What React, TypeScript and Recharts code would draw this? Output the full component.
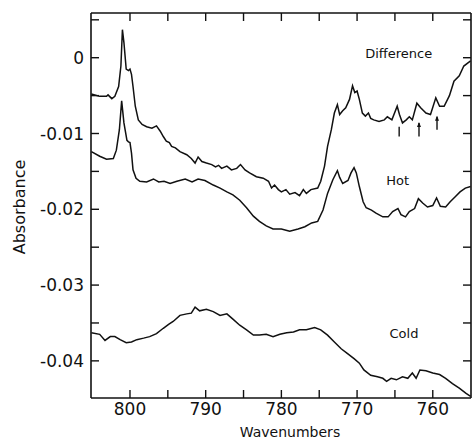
import React from 'react';
import { LineChart, Line, XAxis, YAxis, ReferenceDot, ReferenceLine } from 'recharts';

// Difference spectrum (wavenumber, absorbance)
const diffWn = [805.1, 804.0, 803.1, 802.9, 802.4, 802.0, 801.5, 801.2, 801.0, 800.8, 800.5, 800.2, 800.0, 799.8, 799.6, 799.3, 798.9, 798.4, 797.8, 797.1, 796.5, 796.0, 795.6, 795.2, 794.8, 794.5, 794.0, 793.4, 792.5, 791.9, 791.4, 791.0, 790.5, 789.9, 789.2, 788.7, 788.3, 787.9, 787.2, 786.6, 785.9, 785.4, 784.8, 784.2, 783.3, 782.4, 781.7, 781.3, 780.9, 780.4, 780.0, 779.4, 778.9, 778.2, 777.6, 777.1, 776.7, 776.1, 775.2, 774.8, 774.3, 773.9, 773.4, 773.0, 772.6, 772.3, 771.9, 771.5, 771.0, 770.6, 770.3, 770.0, 769.7, 769.3, 768.9, 768.5, 768.2, 767.8, 767.1, 766.4, 766.0, 765.4, 764.7, 764.4, 764.0, 763.5, 763.1, 762.7, 762.1, 761.6, 760.9, 760.3, 759.6, 759.1, 758.5, 757.8, 757.2, 756.5, 755.9, 755.0];
const diffAbs = [-0.0048, -0.0051, -0.0051, -0.0049, -0.0054, -0.0051, -0.0038, -0.0011, 0.0037, 0.0020, -0.0015, -0.0017, -0.0015, -0.0022, -0.0038, -0.0064, -0.0082, -0.0088, -0.0091, -0.0093, -0.0090, -0.0097, -0.0104, -0.0110, -0.0112, -0.0117, -0.0119, -0.0124, -0.0128, -0.0133, -0.0139, -0.0131, -0.0137, -0.0139, -0.0141, -0.0144, -0.0142, -0.0146, -0.0143, -0.0148, -0.0146, -0.0141, -0.0148, -0.0152, -0.0157, -0.0159, -0.0163, -0.0172, -0.0168, -0.0174, -0.0177, -0.0174, -0.0180, -0.0178, -0.0182, -0.0174, -0.0179, -0.0174, -0.0172, -0.0163, -0.0143, -0.0117, -0.0095, -0.0073, -0.0062, -0.0075, -0.0070, -0.0066, -0.0055, -0.0037, -0.0046, -0.0044, -0.0055, -0.0073, -0.0077, -0.0073, -0.0080, -0.0082, -0.0084, -0.0082, -0.0078, -0.0082, -0.0064, -0.0075, -0.0086, -0.0082, -0.0078, -0.0082, -0.0060, -0.0066, -0.0073, -0.0075, -0.0053, -0.0064, -0.0064, -0.0050, -0.0031, -0.0024, -0.0011, -0.0004];

// Hot spectrum
const hotWn = [805.1, 804.0, 803.1, 802.2, 801.8, 801.4, 801.1, 800.8, 800.4, 800.2, 800.0, 799.8, 799.6, 799.2, 798.7, 797.8, 796.9, 796.2, 795.5, 794.7, 793.8, 792.7, 791.8, 791.0, 790.1, 789.0, 788.1, 787.2, 786.4, 785.5, 784.6, 783.7, 782.9, 782.0, 781.1, 780.0, 778.9, 777.8, 776.9, 776.0, 775.2, 774.5, 773.9, 773.2, 772.6, 772.3, 771.9, 771.2, 770.8, 770.4, 770.1, 769.7, 769.2, 768.8, 768.1, 767.5, 766.6, 765.9, 765.3, 764.6, 764.2, 763.6, 763.1, 762.4, 761.9, 761.3, 760.7, 760.0, 759.5, 759.0, 758.3, 757.7, 757.0, 756.4, 755.7, 755.0];
const hotAbs = [-0.0124, -0.0130, -0.0134, -0.0133, -0.0122, -0.0095, -0.0057, -0.0086, -0.0109, -0.0111, -0.0112, -0.0126, -0.0148, -0.0159, -0.0163, -0.0164, -0.0160, -0.0164, -0.0163, -0.0166, -0.0163, -0.0160, -0.0164, -0.0160, -0.0162, -0.0168, -0.0172, -0.0177, -0.0181, -0.0188, -0.0198, -0.0209, -0.0216, -0.0222, -0.0226, -0.0226, -0.0229, -0.0226, -0.0223, -0.0218, -0.0216, -0.0201, -0.0179, -0.0161, -0.0149, -0.0158, -0.0166, -0.0162, -0.0152, -0.0145, -0.0152, -0.0170, -0.0190, -0.0198, -0.0201, -0.0205, -0.0210, -0.0210, -0.0203, -0.0199, -0.0207, -0.0210, -0.0203, -0.0199, -0.0186, -0.0192, -0.0197, -0.0195, -0.0185, -0.0196, -0.0197, -0.0190, -0.0183, -0.0177, -0.0172, -0.0170];

// Cold spectrum
const coldWn = [805.1, 804.0, 803.3, 802.6, 802.0, 801.3, 800.5, 799.8, 799.1, 798.2, 797.4, 796.5, 795.6, 794.9, 794.3, 793.4, 792.5, 791.9, 791.4, 790.8, 789.9, 789.0, 788.1, 787.2, 786.4, 785.5, 784.6, 783.7, 782.9, 782.0, 781.1, 780.2, 779.3, 778.4, 777.6, 776.7, 775.6, 774.8, 773.9, 773.0, 772.1, 771.3, 770.4, 769.7, 769.1, 768.2, 767.3, 766.6, 766.1, 765.5, 764.8, 764.0, 763.3, 762.7, 762.2, 761.7, 760.9, 760.0, 759.1, 758.3, 757.4, 756.5, 755.6, 755.0];
const coldAbs = [-0.0363, -0.0365, -0.0373, -0.0368, -0.0368, -0.0372, -0.0376, -0.0375, -0.0372, -0.0370, -0.0368, -0.0364, -0.0357, -0.0352, -0.0348, -0.0340, -0.0338, -0.0337, -0.0329, -0.0334, -0.0332, -0.0335, -0.0340, -0.0338, -0.0345, -0.0353, -0.0359, -0.0366, -0.0366, -0.0365, -0.0368, -0.0365, -0.0363, -0.0362, -0.0359, -0.0359, -0.0356, -0.0359, -0.0366, -0.0375, -0.0384, -0.0390, -0.0397, -0.0403, -0.0412, -0.0419, -0.0421, -0.0423, -0.0427, -0.0423, -0.0425, -0.0421, -0.0423, -0.0416, -0.0423, -0.0412, -0.0413, -0.0416, -0.0418, -0.0423, -0.0430, -0.0436, -0.0443, -0.0447];

const xTicks = [800, 795, 790, 785, 780, 775, 770, 765, 760];
const xLabelTicks = [800, 790, 780, 770, 760];
const yTicks = [0.005, 0, -0.005, -0.01, -0.015, -0.02, -0.025, -0.03, -0.035, -0.04];
const yLabelTicks = [0, -0.01, -0.02, -0.03, -0.04];
const yLabelText = ['0', '-0.01', '-0.02', '-0.03', '-0.04'];

// Annotation positions (wavenumber, absorbance)
const seriesLabels = [
  { text: 'Difference', wn: 764.5, abs: 0.0 },
  { text: 'Hot', wn: 764.65, abs: -0.0168 },
  { text: 'Cold', wn: 763.8, abs: -0.0370 },
];
const markers = [
  { wn: 764.44, top: -0.0091, bottom: -0.0104, head: false },
  { wn: 761.82, top: -0.0086, bottom: -0.0104, head: true },
  { wn: 759.44, top: -0.0078, bottom: -0.0095, head: true },
];

const diffData = diffWn.map((wn, i) => ({ wn, abs: diffAbs[i] }));
const hotData = hotWn.map((wn, i) => ({ wn, abs: hotAbs[i] }));
const coldData = coldWn.map((wn, i) => ({ wn, abs: coldAbs[i] }));

const FONT = 'DejaVu Sans';
const INK = '#111';
const TICK = 8;

const BottomTick = (props: any) => {
  const { x, y, payload } = props;
  const v = payload.value;
  const showLabel = xLabelTicks.some((t) => Math.abs(t - v) < 1e-6);
  return (
    <g>
      <line x1={x} y1={y} x2={x} y2={y - TICK} stroke={INK} strokeWidth={1.4} />
      {showLabel && (
        <text x={x} y={y + 17} textAnchor="middle" fontFamily={FONT} fontSize={17} fill={INK}>
          {v}
        </text>
      )}
    </g>
  );
};

const TopTick = (props: any) => {
  const { x, y } = props;
  return <line x1={x} y1={y} x2={x} y2={y + TICK} stroke={INK} strokeWidth={1.4} />;
};

const LeftTick = (props: any) => {
  const { x, y, payload } = props;
  const v = payload.value;
  const idx = yLabelTicks.findIndex((t) => Math.abs(t - v) < 1e-9);
  return (
    <g>
      <line x1={x} y1={y} x2={x + TICK} y2={y} stroke={INK} strokeWidth={1.4} />
      {idx >= 0 && (
        <text x={x - 7} y={y} dy="0.36em" textAnchor="end" fontFamily={FONT} fontSize={17} fill={INK}>
          {yLabelText[idx]}
        </text>
      )}
    </g>
  );
};

const RightTick = (props: any) => {
  const { x, y } = props;
  return <line x1={x} y1={y} x2={x - TICK} y2={y} stroke={INK} strokeWidth={1.4} />;
};

const YTitle = (props: any) => {
  const vb = props.viewBox || { x: 11, y: 13, width: 80, height: 385 };
  const cx = vb.x + 8;
  const cy = vb.y + vb.height / 2 + 1.5;
  return (
    <text
      x={cx}
      y={cy}
      transform={`rotate(-90 ${cx} ${cy})`}
      textAnchor="middle"
      dy="0.36em"
      fontFamily={FONT}
      fontSize={16}
      fill={INK}
    >
      Absorbance
    </text>
  );
};

const XTitle = (props: any) => {
  const vb = props.viewBox || { x: 91, y: 398, width: 380, height: 30 };
  return (
    <text
      x={vb.x + vb.width / 2 + 9}
      y={vb.y + 39}
      textAnchor="middle"
      fontFamily={FONT}
      fontSize={14}
      fill={INK}
    >
      Wavenumbers
    </text>
  );
};

const xDomain: [number, number] = [754.95, 805.15];
const yDomain: [number, number] = [-0.0449, 0.0059];

export default function App() {
  return (
    <div style={{ position: 'absolute', left: 0, top: 0, background: '#fff' }}>
      <LineChart width={472} height={440} margin={{ top: 12, right: 0, bottom: 12, left: 11 }}>
        <XAxis
          xAxisId="b"
          dataKey="wn"
          type="number"
          domain={xDomain}
          reversed
          allowDataOverflow
          ticks={xTicks}
          interval={0}
          tickSize={0}
          tickMargin={0}
          tick={<BottomTick />}
          height={30}
          axisLine={{ stroke: INK, strokeWidth: 1.6 }}
          label={XTitle}
        />
        <XAxis
          xAxisId="t"
          orientation="top"
          dataKey="wn"
          type="number"
          domain={xDomain}
          reversed
          allowDataOverflow
          ticks={xTicks}
          interval={0}
          tickSize={0}
          tickMargin={0}
          tick={<TopTick />}
          height={1}
          axisLine={{ stroke: INK, strokeWidth: 1.6 }}
        />
        <YAxis
          yAxisId="l"
          type="number"
          domain={yDomain}
          allowDataOverflow
          ticks={yTicks}
          interval={0}
          tickSize={0}
          tickMargin={0}
          tick={<LeftTick />}
          width={80}
          axisLine={{ stroke: INK, strokeWidth: 1.6 }}
          label={YTitle}
        />
        <YAxis
          yAxisId="r"
          orientation="right"
          type="number"
          domain={yDomain}
          allowDataOverflow
          ticks={yTicks}
          interval={0}
          tickSize={0}
          tickMargin={0}
          tick={<RightTick />}
          width={1}
          axisLine={{ stroke: INK, strokeWidth: 1.6 }}
        />
        <Line
          data={diffData}
          dataKey="abs"
          xAxisId="b"
          yAxisId="l"
          type="linear"
          stroke={INK}
          strokeWidth={1.5}
          dot={false}
          isAnimationActive={false}
        />
        <Line
          data={hotData}
          dataKey="abs"
          xAxisId="b"
          yAxisId="l"
          type="linear"
          stroke={INK}
          strokeWidth={1.5}
          dot={false}
          isAnimationActive={false}
        />
        <Line
          data={coldData}
          dataKey="abs"
          xAxisId="b"
          yAxisId="l"
          type="linear"
          stroke={INK}
          strokeWidth={1.5}
          dot={false}
          isAnimationActive={false}
        />
        {markers.map((m, i) => (
          <ReferenceLine
            key={`m${i}`}
            xAxisId="b"
            yAxisId="l"
            segment={[
              { x: m.wn, y: m.top },
              { x: m.wn, y: m.bottom },
            ]}
            stroke={INK}
            strokeWidth={1.4}
          />
        ))}
        {markers
          .filter((m) => m.head)
          .map((m, i) => (
            <ReferenceDot
              key={`h${i}`}
              xAxisId="b"
              yAxisId="l"
              x={m.wn}
              y={m.top}
              r={2}
              shape={(p: any) => (
                <path
                  d={`M${p.cx},${p.cy - 1} L${p.cx - 2},${p.cy + 4} L${p.cx + 2},${p.cy + 4} Z`}
                  fill={INK}
                  stroke="none"
                />
              )}
            />
          ))}
        {seriesLabels.map((s, i) => (
          <ReferenceDot
            key={`s${i}`}
            xAxisId="b"
            yAxisId="l"
            x={s.wn}
            y={s.abs}
            r={1}
            shape={(p: any) => (
              <text x={p.cx} y={p.cy} textAnchor="middle" fontFamily={FONT} fontSize={13} fill={INK}>
                {s.text}
              </text>
            )}
          />
        ))}
      </LineChart>
    </div>
  );
}
